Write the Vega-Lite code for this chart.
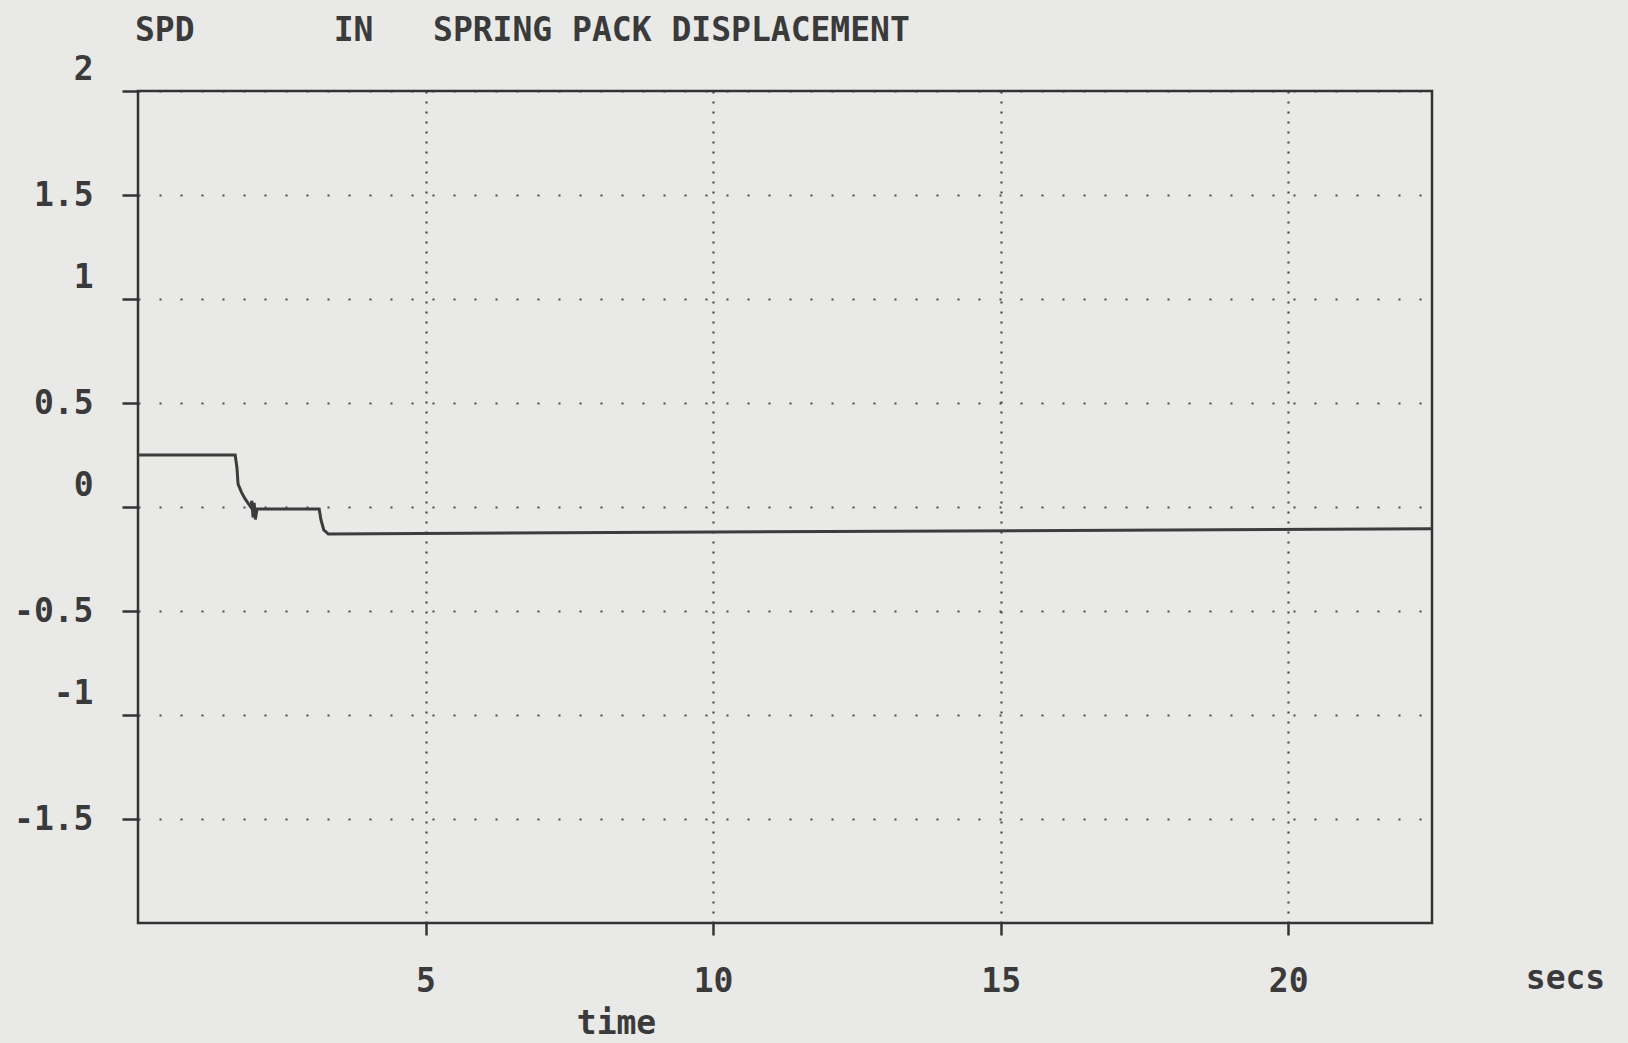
{
  "$schema": "https://vega.github.io/schema/vega-lite/v6.json",
  "autosize": "none",
  "padding": {"left": 138, "top": 91, "right": 196, "bottom": 120},
  "width": 1294,
  "height": 832,
  "background": "#e9e9e7",
  "config": {
    "font": "DejaVu Sans Mono",
    "view": {"stroke": "#333333", "strokeWidth": 2.5}
  },
  "title": {
    "text": "SPD\u00a0\u00a0\u00a0\u00a0\u00a0\u00a0\u00a0IN\u00a0\u00a0\u00a0SPRING PACK DISPLACEMENT",
    "anchor": "start",
    "frame": "group",
    "font": "DejaVu Sans Mono",
    "fontSize": 33,
    "fontWeight": "bold",
    "color": "#3a3a3a",
    "offset": 5,
    "dx": -3
  },
  "data": {
    "values": [
      {"t": 0, "v": 0.25},
      {"t": 1.69, "v": 0.25},
      {"t": 1.72, "v": 0.19},
      {"t": 1.74, "v": 0.11},
      {"t": 1.8, "v": 0.07},
      {"t": 1.86, "v": 0.04},
      {"t": 1.91, "v": 0.02},
      {"t": 1.96, "v": 0.0},
      {"t": 1.98, "v": 0.03},
      {"t": 2.0, "v": -0.05},
      {"t": 2.02, "v": 0.02},
      {"t": 2.04, "v": -0.06},
      {"t": 2.07, "v": -0.01},
      {"t": 3.15, "v": -0.01},
      {"t": 3.18, "v": -0.06},
      {"t": 3.23, "v": -0.11},
      {"t": 3.31, "v": -0.13},
      {"t": 10, "v": -0.12},
      {"t": 22.5, "v": -0.105}
    ]
  },
  "mark": {"type": "line", "color": "#3c3c3c", "strokeWidth": 3, "interpolate": "linear"},
  "encoding": {
    "x": {
      "field": "t", "type": "quantitative",
      "scale": {"domain": [0, 22.5], "nice": false, "zero": false},
      "axis": {
        "orient": "bottom",
        "values": [5, 10, 15, 20],
        "labelExpr": "'' + datum.value",
        "title": "time",
        "titleX": 478, "titleY": 100,
        "titleAlign": "center", "titleBaseline": "middle", "titleAngle": 0,
        "titleFont": "DejaVu Sans Mono", "titleFontSize": 33, "titleFontWeight": "bold", "titleColor": "#3a3a3a",
        "domain": false,
        "ticks": true, "tickSize": 12, "tickColor": "#333333", "tickWidth": 2.5,
        "labelFont": "DejaVu Sans Mono", "labelFontSize": 33, "labelFontWeight": "bold", "labelColor": "#3a3a3a",
        "labelPadding": 30,
        "grid": true, "gridColor": "#3a3a3a", "gridDash": [2, 8], "gridWidth": 2.2, "gridOpacity": 0.9
      }
    },
    "y": {
      "field": "v", "type": "quantitative",
      "scale": {"domain": [-2, 2], "nice": false, "zero": false},
      "axis": {
        "values": [-1.5, -1, -0.5, 0, 0.5, 1, 1.5, 2],
        "labelExpr": "'' + datum.value",
        "title": "secs",
        "titleX": 1427, "titleY": 887,
        "titleAlign": "center", "titleBaseline": "middle", "titleAngle": 0,
        "titleFont": "DejaVu Sans Mono", "titleFontSize": 33, "titleFontWeight": "bold", "titleColor": "#3a3a3a",
        "domain": false,
        "ticks": true, "tickSize": 16, "tickColor": "#333333", "tickWidth": 2.5,
        "labelFont": "DejaVu Sans Mono", "labelFontSize": 33, "labelFontWeight": "bold", "labelColor": "#3a3a3a",
        "labelPadding": 29,
        "labelOffset": {"expr": "datum.value % 1 === 0 ? -22 : 0"},
        "grid": true, "gridColor": "#3a3a3a", "gridDash": [2, 19], "gridWidth": 2.2, "gridOpacity": 0.9
      }
    }
  }
}
